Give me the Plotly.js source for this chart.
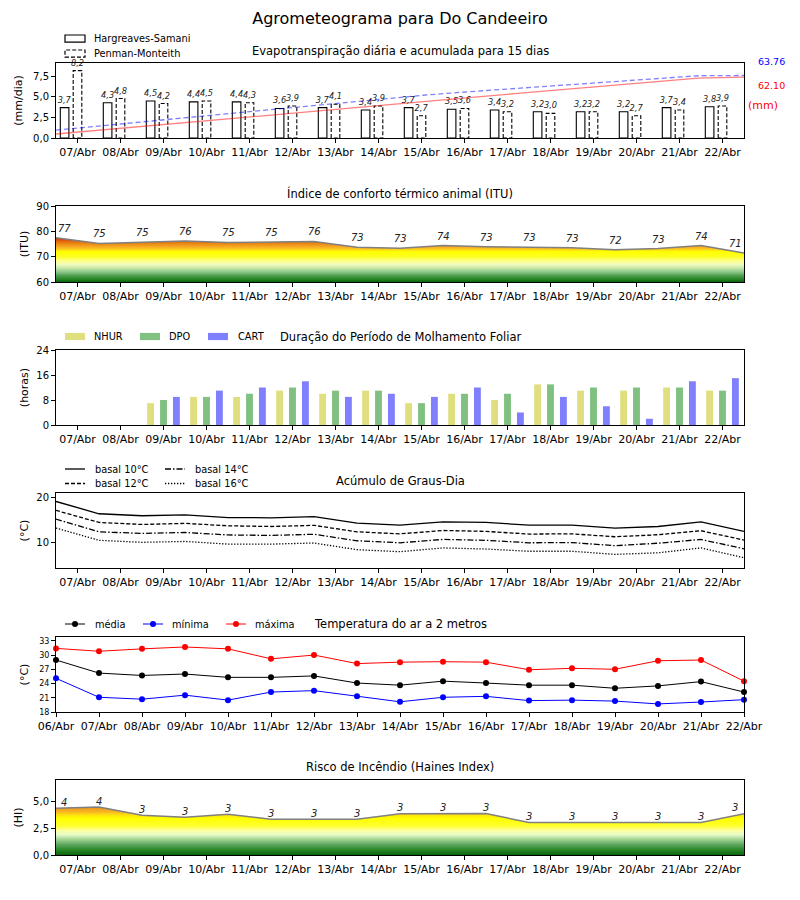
<!DOCTYPE html>
<html>
<head>
<meta charset="utf-8">
<script src="https://cdn.plot.ly/plotly-3.0.1.min.js"></script>
<style>html,body{margin:0;padding:0;background:#fff}</style>
</head>
<body>
<div id="chart" style="width:800px;height:900px"></div>
<script>
// ---------------- DATA ----------------
const dias = ['07/Abr','08/Abr','09/Abr','10/Abr','11/Abr','12/Abr','13/Abr','14/Abr',
              '15/Abr','16/Abr','17/Abr','18/Abr','19/Abr','20/Abr','21/Abr','22/Abr'];
const diasPontos = ['06/Abr','07/Abr','08/Abr','09/Abr','10/Abr','11/Abr','12/Abr','13/Abr','14/Abr',
              '15/Abr','16/Abr','17/Abr','18/Abr','19/Abr','20/Abr','21/Abr','22/Abr'];

// Evapotranspiração (mm/dia)
const etHS = [3.7,4.3,4.5,4.4,4.4,3.6,3.7,3.4,3.7,3.5,3.4,3.2,3.2,3.2,3.7,3.8];
const etPM = [8.2,4.8,4.2,4.5,4.3,3.9,4.1,3.9,2.7,3.6,3.2,3.0,3.2,2.7,3.4,3.9];
// Acumulado (mm)
const acumHS = [4.1,8.3,12.4,16.6,20.7,24.9,29.0,33.1,37.2,41.2,45.2,49.1,53.1,56.9,61.0,62.10];
const acumPM = [8.1,12.6,17.0,21.5,25.9,30.4,34.8,39.3,43.6,47.2,50.6,54.0,57.4,60.3,63.5,63.76];
const totalHS = '62.10', totalPM = '63.76';

// ITU
const itu = [77.5,75.2,75.7,76.2,75.6,75.7,76.0,73.7,73.3,74.4,73.9,73.7,73.5,72.7,73.2,74.4,71.4];
const ituRotulos = ['77','75','75','76','75','75','76','73','73','74','73','73','73','72','73','74','71'];

// Molhamento foliar (horas)
const nhur = [0,0,7,9,9,11,10,11,7,10,8,13,11,11,12,11];
const dpo  = [0,0,8,9,10,12,11,11,7,10,10,13,12,12,12,11];
const cart = [0,0,9,11,12,14,9,10,9,12,4,9,6,2,14,15];

// Graus-dia (°C)
const gd10 = [19.1,16.35,15.9,16.1,15.5,15.45,15.7,14.25,13.8,14.55,14.4,13.8,13.8,13.15,13.5,14.55,12.4];
const gd12 = [17.1,14.4,13.95,14.2,13.65,13.5,13.75,12.3,11.85,12.6,12.4,11.8,11.85,11.2,11.65,12.55,10.45];
const gd14 = [15.15,12.3,11.95,12.15,11.6,11.5,11.75,10.3,9.85,10.6,10.4,9.85,9.9,9.2,9.75,10.6,8.5];
const gd16 = [13.15,10.4,9.95,10.15,9.55,9.55,9.8,8.3,7.85,8.7,8.45,7.95,7.95,7.25,7.6,8.7,6.5];

// Temperatura (°C)
const tMed = [28.95,26.2,25.7,26.0,25.3,25.3,25.6,24.1,23.65,24.5,24.1,23.65,23.65,23.0,23.5,24.4,22.2];
const tMin = [25.1,21.1,20.7,21.55,20.5,22.2,22.5,21.3,20.15,21.1,21.3,20.4,20.5,20.3,19.7,20.1,20.6];
const tMax = [31.4,30.8,31.3,31.7,31.3,29.2,30.0,28.2,28.5,28.6,28.5,26.9,27.2,27.0,28.8,28.95,24.5];

// Haines
const haines = [4.37,4.47,3.72,3.53,3.81,3.34,3.34,3.34,3.85,3.87,3.87,3.03,3.03,3.03,3.03,3.03,3.85];
const hainesRotulos = ['4','4','3','3','3','3','3','3','3','3','3','3','3','3','3','3','3'];

// ---------------- HELPERS ----------------
const FONT = 'DejaVu Sans, Liberation Sans, sans-serif';
const W = 800, H = 900, ML = 56, MR = 56, PW = W - ML - MR;
const X = px => (px - ML) / PW;
const P = py => 1 - py / H;

const xDia = dias.map((_, i) => i + 0.5);      // centre of each day
const xPt = diasPontos.map((_, i) => i);        // day boundaries
const xAcum = dias.map((_, i) => i);
const fmt = v => v.toFixed(1).replace('.', ',');

// subplot vertical extents (pixel top/bottom)
const boxes = [[63,138],[206,282],[350,425],[493,568],[637,712],[780,855]];
const dom = boxes.map(b => [P(b[1]), P(b[0])]);

function ax(extra) {
  return Object.assign({
    showline: true, mirror: true, linecolor: '#000', linewidth: 1,
    ticks: 'outside', ticklen: 4, tickwidth: 1, tickcolor: '#000',
    showgrid: false, zeroline: false, fixedrange: true,
    tickfont: {family: FONT, size: 11, color: '#000'}
  }, extra);
}
function ytitle(t, so) {
  return {text: t, font: {family: FONT, size: 11, color: '#000'}, standoff: so};
}

// ---------------- TRACES ----------------
const traces = [];
const lblFont = {family: FONT, size: 8.2, style: 'italic', color: '#222'};

traces.push({type: 'bar', name: 'Hargreaves-Samani', x: xDia, y: etHS, width: 0.2, offset: -0.4,
  marker: {color: '#fff', line: {color: '#000', width: 1.1}},
  text: etHS.map(fmt), textposition: 'outside', textfont: lblFont, constraintext: 'none',
  cliponaxis: false, xaxis: 'x', yaxis: 'y', hoverinfo: 'skip'});
traces.push({type: 'bar', name: 'Penman-Monteith', x: xDia, y: etPM, width: 0.2, offset: -0.1,
  marker: {color: '#fff', line: {color: '#fff', width: 0}},
  text: etPM.map(fmt), textposition: 'outside', textfont: lblFont, constraintext: 'none',
  cliponaxis: false, xaxis: 'x', yaxis: 'y', hoverinfo: 'skip'});
// dashed outline of the Penman-Monteith bars
const ox = [], oy = [];
xDia.forEach((c, i) => {
  ox.push(c - 0.1, c - 0.1, c + 0.1, c + 0.1, c - 0.1, null);
  oy.push(0, etPM[i], etPM[i], 0, 0, null);
});
traces.push({type: 'scatter', mode: 'lines', x: ox, y: oy, xaxis: 'x', yaxis: 'y',
  line: {color: '#000', width: 1.1, dash: '4px,2px'}, hoverinfo: 'skip', showlegend: false, cliponaxis: false});
traces.push({type: 'scatter', mode: 'lines', name: 'Acumulado HS', x: xAcum, y: acumHS,
  xaxis: 'x7', yaxis: 'y7', line: {color: 'rgba(255,0,0,0.5)', width: 1.3}});
traces.push({type: 'scatter', mode: 'lines', name: 'Acumulado PM', x: xAcum, y: acumPM,
  xaxis: 'x7', yaxis: 'y7', line: {color: 'rgba(0,0,255,0.5)', width: 1.3, dash: '5px,3px'}});

// ITU
const ituScale = [
  [0.0, '#0a640a'], [0.0556, '#248224'], [0.1389, '#4e9e4e'], [0.2222, '#8cc88c'],
  [0.3056, '#c8e8a8'], [0.3889, '#f2fcc0'], [0.4722, '#ffff80'], [0.5556, '#ffff20'],
  [0.6667, '#ffff00'], [0.7222, '#fcc820'], [0.7778, '#f5a623'], [0.8333, '#eb8c14'],
  [0.8889, '#e26a10'], [0.9444, '#d63a10'], [1.0, '#cc1010']];
traces.push({type: 'scatter', mode: 'lines', name: 'ITU', x: xPt, y: itu, xaxis: 'x2', yaxis: 'y2',
  line: {color: '#808080', width: 1.5}, fill: 'tozeroy',
  fillgradient: {type: 'vertical', start: 60, stop: 78, colorscale: ituScale}});

// Molhamento
const wet = [[nhur, 'NHUR', 'rgb(223,223,128)', -0.38], [dpo, 'DPO', 'rgb(128,192,128)', -0.08], [cart, 'CART', 'rgb(128,128,255)', 0.22]];
wet.forEach(w => traces.push({type: 'bar', name: w[1], x: xDia, y: w[0], width: 0.16, offset: w[3],
  marker: {color: w[2], line: {width: 0}}, xaxis: 'x3', yaxis: 'y3'}));

// Graus-dia
const gdSeries = [[gd10, 'basal 10°C', 'solid'], [gd12, 'basal 12°C', '4px,2px'],
                  [gd14, 'basal 14°C', '6px,2px,1.5px,2px'], [gd16, 'basal 16°C', '1.3px,1.7px']];
gdSeries.forEach(g => traces.push({type: 'scatter', mode: 'lines', name: g[1], x: xPt, y: g[0],
  xaxis: 'x4', yaxis: 'y4', line: {color: '#000', width: 1.3, dash: g[2]}}));

// Temperatura
const tSeries = [[tMed, 'média', '#000'], [tMin, 'mínima', '#0000ff'], [tMax, 'máxima', '#ff0000']];
tSeries.forEach(t => traces.push({type: 'scatter', mode: 'lines+markers', name: t[1], x: xPt, y: t[0],
  xaxis: 'x5', yaxis: 'y5', line: {color: t[2], width: 1}, marker: {color: t[2], size: 6}, cliponaxis: false}));

// Haines
const hainesScale = [
  [0.0, '#0a640a'], [0.111, '#2a8a2a'], [0.222, '#5fa85f'], [0.333, '#a8d898'],
  [0.422, '#e8fcc8'], [0.511, '#ffffa0'], [0.6, '#ffff30'], [0.756, '#ffff00'],
  [0.833, '#ffe010'], [0.889, '#f8b820'], [0.956, '#f0a020'], [1.0, '#e89018']];
traces.push({type: 'scatter', mode: 'lines', name: 'Haines', x: xPt, y: haines, xaxis: 'x6', yaxis: 'y6',
  line: {color: '#808080', width: 1.5}, fill: 'tozeroy',
  fillgradient: {type: 'vertical', start: 0, stop: 4.5, colorscale: hainesScale}});

// ---------------- ANNOTATIONS ----------------
const ann = [];
const titles = ['Evapotranspiração diária e acumulada para 15 dias', 'Índice de conforto térmico animal (ITU)',
  'Duração do Período de Molhamento Foliar', 'Acúmulo de Graus-Dia', 'Temperatura do ar a 2 metros',
  'Risco de Incêndio (Haines Index)'];
const titleY = [51, 194, 337, 481, 624, 767];
titles.forEach((t, i) => ann.push({text: t, xref: 'paper', yref: 'paper', x: 0.5, y: P(titleY[i]),
  xanchor: 'center', yanchor: 'middle', showarrow: false, font: {family: FONT, size: 11.5, color: '#000'}}));

const valFont = {family: FONT, size: 10, style: 'italic', color: '#222'};
itu.forEach((v, i) => ann.push({text: ituRotulos[i], xref: 'x2', yref: 'y2', x: xPt[i], y: v,
  showarrow: false, yanchor: 'middle', yshift: 9.5, xshift: i === 0 ? 8 : (i === itu.length - 1 ? -9 : 0), font: valFont}));
haines.forEach((v, i) => ann.push({text: hainesRotulos[i], xref: 'x6', yref: 'y6', x: xPt[i], y: v,
  showarrow: false, yanchor: 'middle', yshift: 6, xshift: i === 0 ? 8 : (i === haines.length - 1 ? -9 : 0), font: valFont}));

// accumulated totals
ann.push({text: totalPM, xref: 'paper', yref: 'paper', x: X(756), y: P(61), xanchor: 'left', yanchor: 'middle',
  showarrow: false, font: {family: FONT, size: 9.5, color: '#0000ff'}});
ann.push({text: totalHS, xref: 'paper', yref: 'paper', x: X(756), y: P(85.5), xanchor: 'left', yanchor: 'middle',
  showarrow: false, font: {family: FONT, size: 9.5, color: '#ff0000'}});
ann.push({text: '(mm)', xref: 'paper', yref: 'paper', x: X(746), y: P(105.5), xanchor: 'left', yanchor: 'middle',
  showarrow: false, font: {family: FONT, size: 11, color: '#ff0000'}});

// ---------------- MANUAL LEGENDS ----------------
const shapes = [];
const legFont = {family: FONT, size: 9.8, color: '#000'};
function legText(t, px, py) {
  ann.push({text: t, xref: 'paper', yref: 'paper', x: X(px), y: P(py), xanchor: 'left', yanchor: 'middle',
    showarrow: false, font: legFont});
}
function legRect(x0, x1, yc, fill, line) {
  shapes.push({type: 'rect', xref: 'paper', yref: 'paper', x0: X(x0), x1: X(x1), y0: P(yc + 3.6), y1: P(yc - 3.6),
    fillcolor: fill, line: line});
}
function legLine(x0, x1, yc, color, dash, w) {
  shapes.push({type: 'line', xref: 'paper', yref: 'paper', x0: X(x0), x1: X(x1), y0: P(yc), y1: P(yc),
    line: {color: color, width: w || 1.3, dash: dash}});
}
function legDot(xc, yc, color) {
  shapes.push({type: 'circle', xref: 'paper', yref: 'paper', xsizemode: 'pixel', ysizemode: 'pixel',
    xanchor: X(xc), yanchor: P(yc), x0: -3, x1: 3, y0: -3, y1: 3, fillcolor: color, line: {width: 0}});
}
// ET legend
legRect(65, 85, 38.6, '#fff', {color: '#000', width: 1.2});
legRect(65, 85, 53.6, '#fff', {color: '#000', width: 1.2, dash: '4px,2px'});
legText('Hargreaves-Samani', 92, 38.6);
legText('Penman-Monteith', 92, 53.6);
// wetting legend
[[65, 92], [140, 167], [208, 236]].forEach((p, i) => {
  legRect(p[0], p[0] + 20, 336.5, wet[i][2], {width: 0});
  legText(wet[i][1], p[1], 336.5);
});
// degree-days legend
[[65, 469], [65, 483.5], [165, 469], [165, 483.5]].forEach((p, i) => {
  legLine(p[0], p[0] + 20, p[1], '#000', gdSeries[i][2]);
  legText(gdSeries[i][1], p[0] + 27.7, p[1]);
});
// temperature legend
[[65, 93], [143, 170], [226, 253]].forEach((p, i) => {
  legLine(p[0], p[0] + 20, 624, tSeries[i][2], 'solid', 1);
  legDot(p[0] + 10, 624, tSeries[i][2]);
  legText(tSeries[i][1], p[1], 624);
});

// ---------------- LAYOUT ----------------
const layout = {
  width: W, height: H, margin: {l: ML, r: MR, t: 0, b: 0}, paper_bgcolor: '#fff', plot_bgcolor: '#fff',
  showlegend: false, barmode: 'overlay', separators: ', ',
  font: {family: FONT, color: '#000'},
  title: {text: 'Agrometeograma para Do Candeeiro', x: 0.5, xanchor: 'center', y: P(18), yanchor: 'middle',
    font: {family: FONT, size: 16, color: '#000'}},
  xaxis:  ax({domain: [0, 1], anchor: 'y', range: [0, 16], tickmode: 'array', tickvals: xDia, ticktext: dias}),
  yaxis:  ax({domain: dom[0], anchor: 'x', range: [0, 9.13], tickmode: 'array', tickvals: [0, 2.5, 5, 7.5],
    ticktext: ['0,0', '2,5', '5,0', '7,5'], tickfont: {family: FONT, size: 10, color: '#000'}, title: ytitle('(mm/dia)', 8)}),
  xaxis7: {overlaying: 'x', anchor: 'y7', range: [0, 15], visible: false, fixedrange: true},
  yaxis7: {overlaying: 'y', anchor: 'x7', range: [0, 76.5], visible: false, fixedrange: true},
  xaxis2: ax({domain: [0, 1], anchor: 'y2', range: [0, 16], tickmode: 'array', tickvals: xDia, ticktext: dias}),
  yaxis2: ax({domain: dom[1], anchor: 'x2', range: [60, 90], tickmode: 'array', tickvals: [60, 70, 80, 90],
    tickfont: {family: FONT, size: 10, color: '#000'}, title: ytitle('(ITU)', 5)}),
  xaxis3: ax({domain: [0, 1], anchor: 'y3', range: [0, 16], tickmode: 'array', tickvals: xDia, ticktext: dias}),
  yaxis3: ax({domain: dom[2], anchor: 'x3', range: [0, 24], tickmode: 'array', tickvals: [0, 8, 16, 24],
    tickfont: {family: FONT, size: 10, color: '#000'}, title: ytitle('(horas)', 5)}),
  xaxis4: ax({domain: [0, 1], anchor: 'y4', range: [0, 16], tickmode: 'array', tickvals: xDia, ticktext: dias}),
  yaxis4: ax({domain: dom[3], anchor: 'x4', range: [4.2, 21.0], tickmode: 'array', tickvals: [10, 20],
    tickfont: {family: FONT, size: 10, color: '#000'}, title: ytitle('(°C)', 5)}),
  xaxis5: ax({domain: [0, 1], anchor: 'y5', range: [0, 16], tickmode: 'array', tickvals: xPt, ticktext: diasPontos}),
  yaxis5: ax({domain: dom[4], anchor: 'x5', range: [18, 33.8], tickmode: 'array', tickvals: [18, 21, 24, 27, 30, 33],
    tickfont: {family: FONT, size: 8, color: '#000'}, title: ytitle('(°C)', 8)}),
  xaxis6: ax({domain: [0, 1], anchor: 'y6', range: [0, 16], tickmode: 'array', tickvals: xDia, ticktext: dias}),
  yaxis6: ax({domain: dom[5], anchor: 'x6', range: [0, 7], tickmode: 'array', tickvals: [0, 2.5, 5],
    ticktext: ['0,0', '2,5', '5,0'], tickfont: {family: FONT, size: 10, color: '#000'}, title: ytitle('(HI)', 8)}),
  annotations: ann,
  shapes: shapes
};

Plotly.newPlot('chart', traces, layout, {staticPlot: true, displayModeBar: false});
</script>
</body>
</html>
